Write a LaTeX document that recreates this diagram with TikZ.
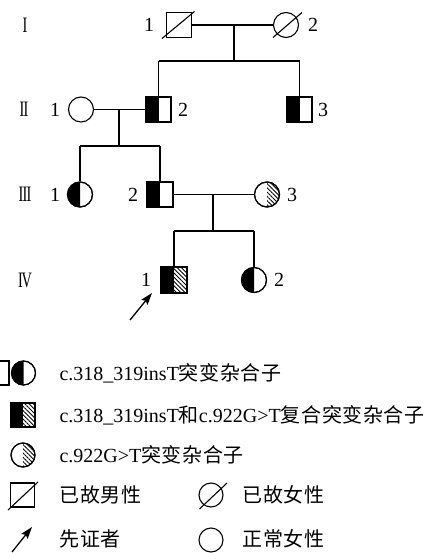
\documentclass[tikz,border=0pt]{standalone}
\usepackage{fontspec}
\setmainfont{Liberation Serif}
\newfontfamily\cjk{Noto Sans CJK SC}[LetterSpace=3]
\usetikzlibrary{patterns.meta,arrows.meta}

% half-filled symbols (#1 = node name, #2 = radius)
\newcommand\leftfillsq[1]{\fill (#1.north west) rectangle (#1.south);}
\newcommand\righthatchsq[1]{\fill[hatch] (#1.north) rectangle (#1.south east);}
\newcommand\leftfillci[2]{\begin{scope}\clip (#1.center) ++(-14,-14) rectangle ++(14,28);
  \fill (#1.center) circle[radius=#2];\end{scope}}
\newcommand\righthatchci[2]{\begin{scope}\clip (#1.center) ++(0,-14) rectangle ++(14,28);
  \fill[hatch] (#1.center) circle[radius=#2];\end{scope}}

\begin{document}
\begin{tikzpicture}[x=1pt,y=-1pt,line width=1.1pt,
  every node/.style={font=\fontsize{20}{24}\selectfont, inner sep=0pt},
  male/.style={draw, rectangle, minimum size=25pt, inner sep=0pt},
  female/.style={draw, circle, minimum size=25pt, inner sep=0pt},
  smale/.style={draw, rectangle, minimum size=24pt, inner sep=0pt},
  sfemale/.style={draw, circle, minimum size=24pt, inner sep=0pt},
  hatch/.style={pattern={Lines[angle=-45,distance=3pt,line width=0.9pt]}},
  ptr/.style={-{Stealth[length=12pt,width=8pt,inset=2pt]}, line width=1.3pt},
  lbl/.style={anchor=center},
  gen/.style={anchor=center, xscale=0.65, font=\fontsize{22}{24}\selectfont},
  legtext/.style={anchor=west},
]
\useasboundingbox (0,0) rectangle (431,553);

% ---- generation I
\node[male]   (I1) at (179,25) {};
\node[female] (I2) at (286,25) {};
\draw (162,38.5) -- (194.5,11.5);
\draw (273,37.5) -- (302,12.5);
\node[lbl] at (149,25) {1};
\node[lbl] at (313,25) {2};

% ---- generation II
\node[female] (II1) at (81,109.5) {};
\node[male]   (II2) at (158.5,109.5) {};
\node[male]   (II3) at (299.5,109.5) {};
\leftfillsq{II2}
\leftfillsq{II3}
\draw (II2.north west) rectangle (II2.south east);
\draw (II3.north west) rectangle (II3.south east);
\node[lbl] at (55,109.5) {1};
\node[lbl] at (183,109.5) {2};
\node[lbl] at (323,109.5) {3};

% ---- generation III
\node[female] (III1) at (80,194.5) {};
\node[male]   (III2) at (160,194.5) {};
\node[female] (III3) at (267,194.5) {};
\leftfillci{III1}{12.5pt}
\leftfillsq{III2}
\righthatchci{III3}{12.5pt}
\draw (III1) circle[radius=12.5pt];
\draw (III3) circle[radius=12.5pt];
\draw (III2.north west) rectangle (III2.south east);
\node[lbl] at (55,194.5) {1};
\node[lbl] at (133,194.5) {2};
\node[lbl] at (292,194.5) {3};

% ---- generation IV
\node[male]   (IV1) at (174,280) {};
\node[female] (IV2) at (254,280) {};
\leftfillsq{IV1}
\righthatchsq{IV1}
\leftfillci{IV2}{12.5pt}
\draw (IV1.north west) rectangle (IV1.south east);
\draw (IV2) circle[radius=12.5pt];
\node[lbl] at (146,280) {1};
\node[lbl] at (279,280) {2};

% ---- generation numerals
\node[gen] (gI)   at (25,25)    {I};
\node[gen] (gII)  at (24,109.5) {I\kern-0.05em I};
\node[gen] (gIII) at (25,194.5) {I\kern-0.05em I\kern-0.05em I};
\node[gen] (gIV)  at (25,280)   {I\kern-0.08em V};

% ---- family lines
\draw (I1) -- (I2);
\coordinate (m1) at (234,25);
\coordinate (s1) at (234,61);
\draw (m1) -- (s1);
\draw (II2 |- s1) -- (II3 |- s1);
\draw (II2 |- s1) -- (II2);
\draw (II3 |- s1) -- (II3);

\draw (II1) -- (II2);
\coordinate (m2) at (119,109.5);
\coordinate (s2) at (119,146);
\draw (m2) -- (s2);
\draw (III1 |- s2) -- (III2 |- s2);
\draw (III1 |- s2) -- (III1);
\draw (III2 |- s2) -- (III2);

\draw (III2) -- (III3);
\coordinate (m3) at (213,194.5);
\coordinate (s3) at (213,231);
\draw (m3) -- (s3);
\draw (IV1 |- s3) -- (IV2 |- s3);
\draw (IV1 |- s3) -- (IV1);
\draw (IV2 |- s3) -- (IV2);

% proband arrow
\coordinate (pa) at (130,320);
\coordinate (pb) at (152,293);
\draw[ptr] (pa) -- (pb);

% ---- legend
\node[smale]   (L1s) at (-3,373) {};
\node[sfemale] (L1c) at (23.5,373) {};
\leftfillsq{L1s}
\leftfillci{L1c}{12pt}
\draw (L1c) circle[radius=12pt];
\node[legtext] (T1) at (59,373) {c.318\_319insT{\cjk 突变杂合子}};

\node[smale] (L2s) at (23,415) {};
\leftfillsq{L2s}
\righthatchsq{L2s}
\draw (L2s.north west) rectangle (L2s.south east);
\node[legtext] (T2) at (59,415) {c.318\_319insT{\cjk 和}c.922G>T{\cjk 复合突变杂合子}};

\node[sfemale] (L3c) at (23,455) {};
\righthatchci{L3c}{12pt}
\draw (L3c) circle[radius=12pt];
\node[legtext] (T3) at (59,455) {c.922G>T{\cjk 突变杂合子}};

\node[smale] (L4s) at (22.5,495) {};
\draw (8,510) -- (38,482);
\node[legtext] (T4) at (59,495) {\cjk 已故男性};
\node[sfemale] (L4c) at (211,495) {};
\draw (199.5,509) -- (227,483);
\node[legtext] (T5) at (242,495) {\cjk 已故女性};

\coordinate (la) at (12,552);
\coordinate (lb) at (32,527);
\draw[ptr] (la) -- (lb);
\node[legtext] (T6) at (59,539) {\cjk 先证者};
\node[sfemale] (L5c) at (211,540) {};
\node[legtext] (T7) at (242,539) {\cjk 正常女性};
\end{tikzpicture}
\end{document}
